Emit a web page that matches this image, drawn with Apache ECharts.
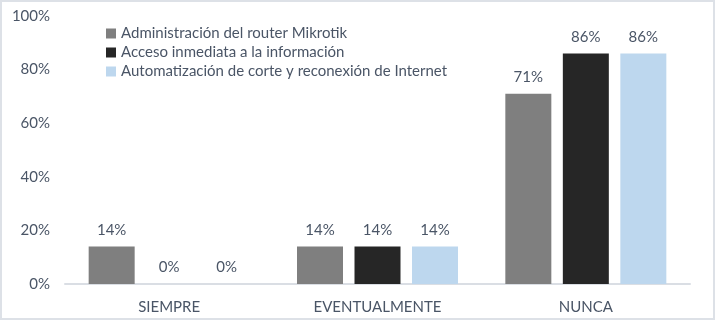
<!DOCTYPE html>
<html>
<head>
<meta charset="utf-8">
<script src="https://cdn.jsdelivr.net/npm/echarts@6/dist/echarts.min.js"></script>
<style>
    html, body { margin: 0; padding: 0; background: #ffffff; }
    #chart { width: 716px; height: 321px; }
</style>
</head>
<body>
<div id="chart"></div>
<script>
// respuestas por categoria
var categories = ['SIEMPRE', 'EVENTUALMENTE', 'NUNCA'];
var seriesNames = [
    'Administración del router Mikrotik',
    'Acceso inmediata a la información',
    'Automatización de corte y reconexión de Internet'
];
var adminRouter = [0.14, 0.14, 0.71];
var accesoInfo = [0, 0.14, 0.86];
var automatizacion = [0, 0.14, 0.86];
var colors = ['#7f7f7f', '#262626', '#bdd7ee'];

var textColor = '#4a5566';
var fontFamily = 'Lato';

function pct(v) {
    return Math.round(v * 100) + '%';
}

function makeSeries(name, data, color) {
    return {
        name: name,
        type: 'bar',
        data: data,
        barWidth: 46,
        barGap: '25%',
        itemStyle: { color: color },
        label: {
            show: true,
            position: 'top',
            distance: 9,
            color: textColor,
            fontFamily: fontFamily,
            fontSize: 15,
            formatter: function (p) { return pct(p.value); }
        }
    };
}

var chart = echarts.init(document.getElementById('chart'));
chart.setOption({
    animation: false,
    color: colors,
    grid: { left: 65, right: 26, top: 16, bottom: 37 },
    legend: {
        orient: 'vertical',
        left: 101,
        top: 21,
        itemWidth: 10,
        itemHeight: 10,
        itemGap: 4,
        icon: 'rect',
        textStyle: { color: textColor, fontFamily: fontFamily, fontSize: 15 },
        data: seriesNames
    },
    xAxis: {
        type: 'category',
        data: categories,
        axisLine: { lineStyle: { color: '#dadee4', width: 2 } },
        axisTick: { show: false },
        axisLabel: { color: textColor, fontFamily: fontFamily, fontSize: 15, margin: 16 }
    },
    yAxis: {
        type: 'value',
        min: 0,
        max: 1,
        interval: 0.2,
        splitLine: { show: false },
        axisLine: { show: false },
        axisLabel: {
            color: textColor,
            fontFamily: fontFamily,
            fontSize: 15,
            margin: 15,
            formatter: pct
        }
    },
    graphic: [{
        type: 'rect',
        silent: true,
        shape: { x: 1, y: 1, width: 713, height: 318 },
        style: { fill: 'none', stroke: '#dde1e7', lineWidth: 2 }
    }],
    series: [
        makeSeries(seriesNames[0], adminRouter, colors[0]),
        makeSeries(seriesNames[1], accesoInfo, colors[1]),
        makeSeries(seriesNames[2], automatizacion, colors[2])
    ]
});
</script>
</body>
</html>
